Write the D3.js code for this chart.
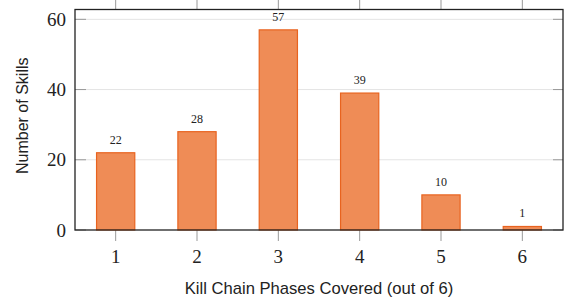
<!DOCTYPE html>
<html>
<head>
<meta charset="utf-8">
<script src="https://cdn.jsdelivr.net/npm/d3@7"></script>
<style>
  body { margin: 0; background: #fff; }
</style>
</head>
<body>
<div id="chart"></div>
<script>
let phases = [1, 2, 3, 4, 5, 6]
let skills = [22, 28, 57, 39, 10, 1]
let yTicks = [0, 20, 40, 60]

let margin = { top: 9.5, left: 75, right: 6, bottom: 72 }
let width = 569 - margin.left - margin.right
let height = 302 - margin.top - margin.bottom

let svg = d3.select('#chart')
  .append('svg')
  .attr('width', 569)
  .attr('height', 302)
  .append('g')
  .attr('transform', `translate(${margin.left},${margin.top})`)

let xScale = d3.scaleLinear().domain([0.5, 6.5]).range([0, width])
let yScale = d3.scaleLinear().domain([0, 62.8]).range([height, 0])
let barWidth = xScale(1.47) - xScale(1)

// grid
svg.selectAll('.grid')
  .data(yTicks.filter(d => d > 0))
  .enter()
  .append('line')
  .attr('x1', 0)
  .attr('x2', width)
  .attr('y1', d => yScale(d))
  .attr('y2', d => yScale(d))
  .attr('stroke', '#e4e4e4')
  .attr('stroke-width', 1)

// y ticks inside on both sides
svg.selectAll('.ytick-l')
  .data(yTicks)
  .enter()
  .append('line')
  .attr('x1', 0)
  .attr('x2', 11)
  .attr('y1', d => yScale(d))
  .attr('y2', d => yScale(d))
  .attr('stroke', '#999')
svg.selectAll('.ytick-r')
  .data(yTicks)
  .enter()
  .append('line')
  .attr('x1', width - 10)
  .attr('x2', width)
  .attr('y1', d => yScale(d))
  .attr('y2', d => yScale(d))
  .attr('stroke', '#999')

// x ticks outside top and bottom
svg.selectAll('.xtick-b')
  .data(phases)
  .enter()
  .append('line')
  .attr('x1', d => xScale(d))
  .attr('x2', d => xScale(d))
  .attr('y1', height)
  .attr('y2', height + 11)
  .attr('stroke', '#999')
svg.selectAll('.xtick-t')
  .data(phases)
  .enter()
  .append('line')
  .attr('x1', d => xScale(d))
  .attr('x2', d => xScale(d))
  .attr('y1', -margin.top)
  .attr('y2', 0)
  .attr('stroke', '#999')

// bars
svg.selectAll('.bar')
  .data(skills)
  .enter()
  .append('rect')
  .attr('x', (d, i) => xScale(phases[i]) - barWidth / 2)
  .attr('y', d => yScale(d))
  .attr('width', barWidth)
  .attr('height', d => height - yScale(d))
  .attr('fill', '#ef8c56')
  .attr('stroke', '#e8631f')
  .attr('stroke-width', 1.2)

// value labels
svg.selectAll('.value')
  .data(skills)
  .enter()
  .append('text')
  .text(d => d)
  .attr('x', (d, i) => xScale(phases[i]))
  .attr('y', d => yScale(d) - 9)
  .attr('text-anchor', 'middle')
  .attr('font-family', 'Liberation Serif, serif')
  .attr('font-size', 12)
  .attr('fill', '#222')

// frame
svg.append('rect')
  .attr('x', 0)
  .attr('y', 0)
  .attr('width', width)
  .attr('height', height)
  .attr('fill', 'none')
  .attr('stroke', '#222')
  .attr('stroke-width', 1.3)

// tick labels
svg.selectAll('.ylabel')
  .data(yTicks)
  .enter()
  .append('text')
  .text(d => d)
  .attr('x', -9)
  .attr('y', d => yScale(d) + 6.5)
  .attr('text-anchor', 'end')
  .attr('font-family', 'Liberation Serif, serif')
  .attr('font-size', 19)
  .attr('fill', '#222')

svg.selectAll('.xlabel')
  .data(phases)
  .enter()
  .append('text')
  .text(d => d)
  .attr('x', d => xScale(d))
  .attr('y', height + 33)
  .attr('text-anchor', 'middle')
  .attr('font-family', 'Liberation Serif, serif')
  .attr('font-size', 19)
  .attr('fill', '#222')

// axis titles
svg.append('text')
  .text('Kill Chain Phases Covered (out of 6)')
  .attr('x', width / 2)
  .attr('y', height + 64)
  .attr('text-anchor', 'middle')
  .attr('font-family', 'Liberation Sans, Arial, sans-serif')
  .attr('font-size', 16.6)
  .attr('fill', '#222')

svg.append('text')
  .text('Number of Skills')
  .attr('transform', `translate(${-47},${height / 2 - 4})rotate(-90)`)
  .attr('text-anchor', 'middle')
  .attr('font-family', 'Liberation Sans, Arial, sans-serif')
  .attr('font-size', 16)
  .attr('fill', '#222')
</script>
</body>
</html>
